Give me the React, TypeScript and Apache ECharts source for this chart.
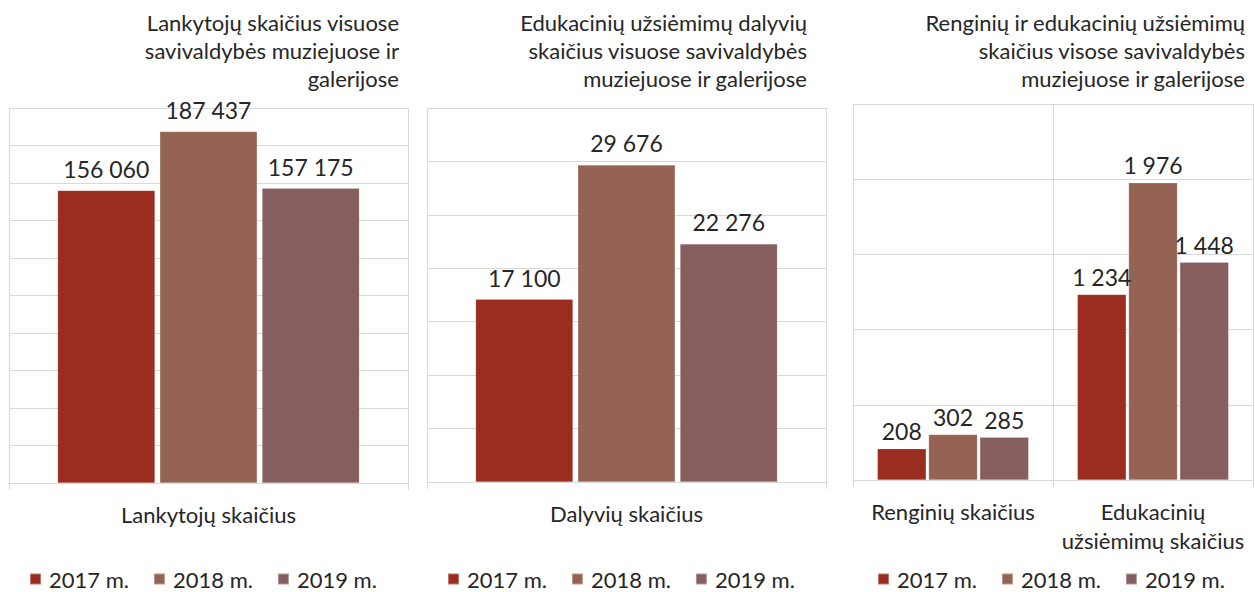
import React, { useEffect, useRef } from "react";
import * as echarts from "echarts";

const years = ["2017 m.", "2018 m.", "2019 m."];
const yearColors = ["#9A2D20", "#956353", "#865E5E"];

const titles = [
  "Lankytojų skaičius visuose\nsavivaldybės muziejuose ir\ngalerijose",
  "Edukacinių užsiėmimų dalyvių\nskaičius visuose savivaldybės\nmuziejuose ir galerijose",
  "Renginių ir edukacinių užsiėmimų\nskaičius visose savivaldybės\nmuziejuose ir galerijose",
];

const visitorCategories = ["Lankytojų skaičius"];
const visitors2017 = [156060];
const visitors2018 = [187437];
const visitors2019 = [157175];

const participantCategories = ["Dalyvių skaičius"];
const participants2017 = [17100];
const participants2018 = [29676];
const participants2019 = [22276];

const eventCategories = ["Renginių skaičius", "Edukacinių\nužsiėmimų skaičius"];
const events2017 = [208, 1234];
const events2018 = [302, 1976];
const events2019 = [285, 1448];

const axisMax = [200000, 35000, 2500];
const axisInterval = [20000, 5000, 500];

const FONT = "Lato, 'Noto Sans', sans-serif";
const TEXT = "#262626";
const GRID = "#D9D9D9";

const fmt = (v: number) => String(v).replace(/\B(?=(\d{3})+(?!\d))/g, " ");

export default function App() {
  const ref = useRef<HTMLDivElement>(null);
  useEffect(() => {
    if (!ref.current) return;
    const chart = echarts.init(ref.current, undefined, { renderer: "svg" });

    const grids = [
      { left: 9, top: 108, width: 399, height: 375 },
      { left: 427, top: 108, width: 399, height: 374 },
      { left: 853, top: 104, width: 400, height: 376 },
    ];
    const categories = [visitorCategories, participantCategories, eventCategories];
    const data = [
      [visitors2017, visitors2018, visitors2019],
      [participants2017, participants2018, participants2019],
      [events2017, events2018, events2019],
    ];
    const titleRightEdges = [399, 807, 1245];
    const legendLefts = [29, 447, 877];

    const series: any[] = [];
    data.forEach((set, ci) => {
      set.forEach((vals, yi) => {
        series.push({
          type: "bar",
          name: years[yi],
          xAxisIndex: ci,
          yAxisIndex: ci,
          data: vals,
          barWidth: "24.4%",
          barGap: "5%",
          itemStyle: { color: yearColors[yi], borderColor: "rgba(255,255,255,0.35)", borderWidth: 0.5 },
          label: {
            show: true,
            position: "top",
            distance: ci === 2 ? 6 : 10,
            fontFamily: FONT,
            fontSize: 23,
            color: TEXT,
            formatter: (p: any) => fmt(p.value),
          },
        });
      });
    });

    chart.setOption({
      animation: false,
      backgroundColor: "#ffffff",
      graphic: titles.map((t, i) => ({
        type: "text",
        x: titleRightEdges[i],
        y: 8,
        style: {
          text: t,
          align: "right",
          verticalAlign: "top",
          fontFamily: FONT,
          fontSize: 22,
          fill: TEXT,
          lineHeight: 28,
        },
      })),
      legend: legendLefts.map((l) => ({
        data: years,
        left: l,
        top: 568,
        itemWidth: 11,
        itemHeight: 11,
        itemGap: 24,
        icon: "rect",
        padding: 0,
        textStyle: { fontFamily: FONT, fontSize: 22, color: TEXT, padding: [0, 0, 0, 3] },
      })),
      grid: grids,
      xAxis: categories.map((c, i) => ({
        type: "category",
        gridIndex: i,
        data: c,
        axisLine: { show: true, lineStyle: { color: GRID, width: 1 } },
        axisTick: { show: true, length: 7, lineStyle: { color: GRID } },
        splitLine: { show: true, lineStyle: { color: GRID, width: 1 } },
        axisLabel: {
          fontFamily: FONT,
          fontSize: 22,
          color: TEXT,
          lineHeight: 29,
          margin: 17,
          interval: 0,
        },
      })),
      yAxis: axisMax.map((m, i) => ({
        type: "value",
        gridIndex: i,
        min: 0,
        max: m,
        interval: axisInterval[i],
        axisLabel: { show: false },
        axisLine: { show: false },
        axisTick: { show: false },
        splitLine: { show: true, lineStyle: { color: GRID, width: 1 } },
      })),
      series,
    });
    return () => chart.dispose();
  }, []);
  return (
    <div
      ref={ref}
      style={{ position: "fixed", left: 0, top: 0, width: 1255, height: 592 }}
    />
  );
}
